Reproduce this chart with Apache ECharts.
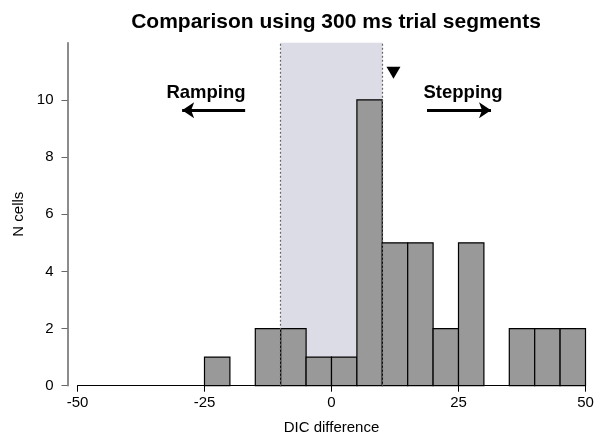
<!DOCTYPE html>
<html lang="en">
  <head>
    <meta charset="UTF-8" />
    <title>DIC difference histogram</title>
    <style>
      body {
        margin: 0;
      }
      #main {
        width: 594px;
        height: 434px;
        background-color: #fff;
      }
    </style>
  </head>
  <body>
    <div id="main"></div>
    <script src="https://cdn.jsdelivr.net/npm/echarts@6/dist/echarts.min.js"></script>

    <script>
      // histogram bins (left edge), width 5
      const binStarts = [-25, -15, -10, -5, 0, 5, 10, 15, 20, 25, 35, 40, 45];
      const counts = [1, 2, 2, 1, 1, 10, 5, 5, 2, 5, 2, 2, 2];
      const binWidth = 5;
      const yTicks = [0, 2, 4, 6, 8, 10];
      // shaded band and marker
      const band = [-10, 10];
      const marker = [12.2, 10.95];
      const labels = [
        { name: "Ramping", value: [-24.7, 10.25] },
        { name: "Stepping", value: [25.9, 10.25] },
      ];
      const arrows = [
        [[-17, 9.64], [-29.4, 9.64]],
        [[18.8, 9.64], [31.4, 9.64]],
      ];

      const font = "Liberation Sans, Arial, sans-serif";
      const myChart = echarts.init(document.getElementById("main"));

      const option = {
        animation: false,
        title: {
          text: "Comparison using 300 ms trial segments",
          left: 331,
          textAlign: "center",
          top: 7,
          textStyle: { fontFamily: font, fontSize: 21, fontWeight: "bold", color: "#000" },
        },
        grid: { left: 77.5, right: 8.5, top: 42.7, bottom: 48.3, outerBoundsMode: "none" },
        xAxis: {
          type: "value",
          min: -50,
          max: 50,
          interval: 25,
          name: "DIC difference",
          nameLocation: "middle",
          nameGap: 35,
          nameTextStyle: { fontFamily: font, fontSize: 15, color: "#000" },
          axisLine: { lineStyle: { color: "#000", width: 1 } },
          axisTick: { length: 6, lineStyle: { color: "#000" } },
          axisLabel: { fontFamily: font, fontSize: 15, color: "#000", margin: 10 },
          splitLine: { show: false },
        },
        yAxis: {
          type: "value",
          min: 0,
          max: 12,
          interval: 2,
          offset: 10,
          name: "N cells",
          nameLocation: "middle",
          nameGap: 33,
          nameTextStyle: { fontFamily: font, fontSize: 15, color: "#000" },
          axisLine: { show: true, onZero: false, lineStyle: { color: "#666", width: 1.5 } },
          axisTick: { length: 6, customValues: yTicks, lineStyle: { color: "#666" } },
          axisLabel: {
            fontFamily: font,
            fontSize: 15,
            color: "#000",
            margin: 14,
            customValues: yTicks,
          },
          splitLine: { show: false },
        },
        series: [
          {
            // shaded band with dotted edges
            type: "line",
            data: [],
            z: 1,
            markArea: {
              silent: true,
              itemStyle: { color: "#dcdce6" },
              data: [[{ xAxis: band[0], yAxis: 0 }, { xAxis: band[1], yAxis: 12 }]],
            },
            markLine: {
              silent: true,
              symbol: "none",
              label: { show: false },
              lineStyle: { color: "#666", type: [2, 2], width: 1.2 },
              data: band.map((b) => [
                { coord: [b, 0] },
                { coord: [b, 12] },
              ]),
            },
          },
          {
            type: "custom",
            z: 3,
            data: binStarts.map((s, i) => [s, counts[i]]),
            renderItem: function (params, api) {
              const x0 = api.value(0);
              const h = api.value(1);
              const p0 = api.coord([x0, h]);
              const p1 = api.coord([x0 + binWidth, 0]);
              return {
                type: "rect",
                shape: { x: p0[0], y: p0[1], width: p1[0] - p0[0], height: p1[1] - p0[1] },
                style: { fill: "#999999", stroke: "#000", lineWidth: 1.2 },
              };
            },
          },
          {
            type: "scatter",
            z: 4,
            symbol: "triangle",
            symbolRotate: 180,
            symbolSize: [14, 12],
            itemStyle: { color: "#000", opacity: 1 },
            data: [marker],
          },
          {
            type: "scatter",
            z: 4,
            symbolSize: 0,
            data: labels,
            itemStyle: { opacity: 1 },
            label: {
              show: true,
              position: "inside",
              formatter: "{b}",
              fontFamily: font,
              fontSize: 18.5,
              fontWeight: "bold",
              color: "#000",
            },
            markLine: {
              silent: true,
              symbol: ["none", "arrow"],
              symbolSize: [12, 12],
              label: { show: false },
              lineStyle: { color: "#000", type: "solid", width: 3 },
              data: arrows.map((a) => [{ coord: a[0] }, { coord: a[1] }]),
            },
          },
        ],
      };
      myChart.setOption(option);
    </script>
  </body>
</html>
